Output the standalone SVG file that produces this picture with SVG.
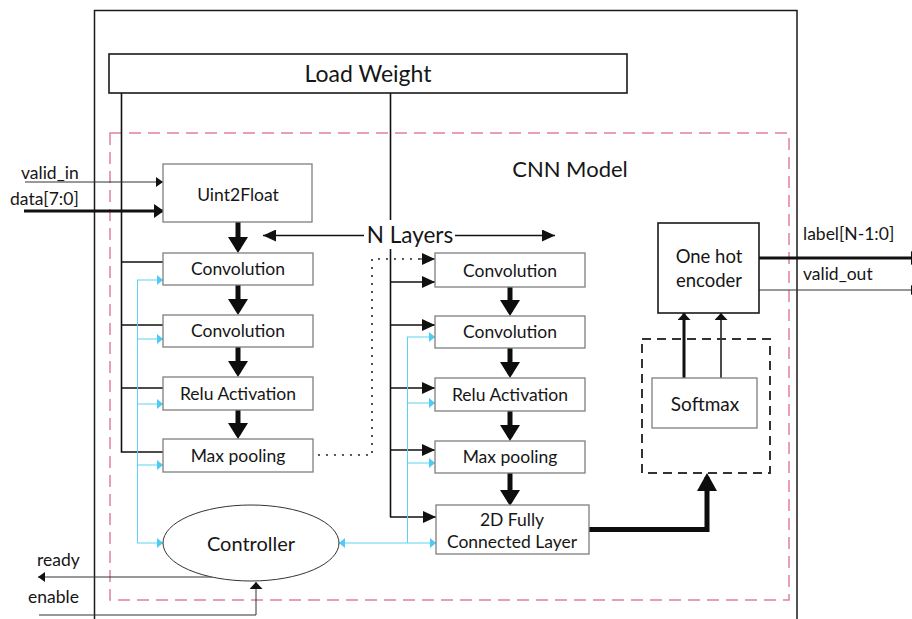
<svg xmlns="http://www.w3.org/2000/svg" width="912" height="619" viewBox="0 0 912 619">
  <style>
    text { font-family: Lato, "Open Sans", "Liberation Sans", sans-serif; fill: #161616; }
    .c { text-anchor: middle; }
    .box { fill: #ffffff; stroke: #7f7f7f; stroke-width: 1.3; }
    .boxk { fill: #ffffff; stroke: #1a1a1a; stroke-width: 1.6; }
    .wire { fill: none; stroke: #111; stroke-width: 1.6; }
    .thin { fill: none; stroke: #333; stroke-width: 1; }
    .bus { fill: none; stroke: #111; stroke-width: 3; }
    .flow { fill: none; stroke: #0d0d0d; stroke-width: 5; }
    .ctl { fill: none; stroke: #5cd2f7; stroke-width: 1; }
    .dot { fill: none; stroke: #222; stroke-width: 1.6; stroke-dasharray: 2 6; }
    .lbl { font-size: 17.5px; }
    .blk { font-size: 17.5px; }
  </style>
  <defs>
    <!-- thick flow arrowhead (line ends 4px before tip) -->
    <marker id="ahFlow" viewBox="0 0 16 20" refX="12" refY="10" markerWidth="16" markerHeight="20" markerUnits="userSpaceOnUse" orient="auto">
      <path d="M0,0 L16,10 L0,20 z" fill="#0d0d0d"/>
    </marker>
    <marker id="ahHuge" viewBox="0 0 18 20" refX="14" refY="10" markerWidth="18" markerHeight="20" markerUnits="userSpaceOnUse" orient="auto">
      <path d="M0,0 L18,10 L0,20 z" fill="#0d0d0d"/>
    </marker>
    <marker id="ahMid" viewBox="0 0 13 12" refX="13" refY="6" markerWidth="13" markerHeight="12" markerUnits="userSpaceOnUse" orient="auto">
      <path d="M0,0 L13,6 L0,12 z" fill="#111"/>
    </marker>
    <marker id="ahData" viewBox="0 0 10 14" refX="9" refY="7" markerWidth="10" markerHeight="14" markerUnits="userSpaceOnUse" orient="auto">
      <path d="M0,0 L10,7 L0,14 z" fill="#111"/>
    </marker>
    <marker id="ahSmall" viewBox="0 0 7 10" refX="7" refY="5" markerWidth="7" markerHeight="10" markerUnits="userSpaceOnUse" orient="auto">
      <path d="M0,0 L7,5 L0,10 z" fill="#111"/>
    </marker>
    <marker id="ahUp" viewBox="0 0 7 13" refX="7" refY="6.5" markerWidth="7" markerHeight="13" markerUnits="userSpaceOnUse" orient="auto">
      <path d="M0,0 L7,6.5 L0,13 z" fill="#111"/>
    </marker>
    <marker id="ahCyan" viewBox="0 0 6 10" refX="6" refY="5" markerWidth="6" markerHeight="10" markerUnits="userSpaceOnUse" orient="auto">
      <path d="M0,0 L6,5 L0,10 z" fill="#4fcaf5"/>
    </marker>
    <marker id="ahCyanS" viewBox="0 0 6 10" refX="6" refY="5" markerWidth="6" markerHeight="10" markerUnits="userSpaceOnUse" orient="auto-start-reverse">
      <path d="M0,0 L6,5 L0,10 z" fill="#4fcaf5"/>
    </marker>
  </defs>

  <!-- accelerator top-level boundary (open at the bottom) -->
  <path id="top-boundary" d="M94.5,619 V10.5 H797 V619" fill="none" stroke="#1a1a1a" stroke-width="1.5"/>

  <!-- CNN model region -->
  <g id="cnn-model">
    <rect x="110" y="133" width="679" height="467" fill="none" stroke="#e0809f" stroke-width="1.5" stroke-dasharray="12 7"/>
    <text x="570" y="177" class="c" font-size="22">CNN Model</text>
  </g>

  <!-- connectors -->
  <g id="connectors">
    <!-- weight distribution, left column -->
    <path class="wire" d="M121.5,93 V452 H163 M121.5,262 H163 M121.5,325 H163 M121.5,388 H163"/>
    <!-- weight distribution, right column -->
    <path class="wire" d="M390.5,93 V220 M390.5,249 V517"/>
    <line class="wire" x1="390" y1="282" x2="435" y2="282" marker-end="url(#ahMid)"/>
    <line class="wire" x1="390" y1="325" x2="435" y2="325" marker-end="url(#ahMid)"/>
    <line class="wire" x1="390" y1="388" x2="435" y2="388" marker-end="url(#ahMid)"/>
    <line class="wire" x1="390" y1="450" x2="435" y2="450" marker-end="url(#ahMid)"/>
    <line class="wire" x1="390" y1="517" x2="436" y2="517" marker-end="url(#ahMid)"/>

    <!-- N layers span -->
    <line class="wire" x1="364" y1="235.5" x2="263" y2="235.5" marker-end="url(#ahMid)"/>
    <line class="wire" x1="455" y1="235.5" x2="555" y2="235.5" marker-end="url(#ahMid)"/>

    <!-- layer repetition (dotted) -->
    <path class="dot" d="M318,455 H372 V259 H422"/>
    <line x1="420" y1="259" x2="435" y2="259" stroke="#111" stroke-width="1" marker-end="url(#ahMid)"/>

    <!-- data flow, left column -->
    <line class="flow" x1="238" y1="222" x2="238" y2="249" marker-end="url(#ahFlow)"/>
    <line class="flow" x1="238" y1="285" x2="238" y2="311" marker-end="url(#ahFlow)"/>
    <line class="flow" x1="238" y1="347" x2="238" y2="373" marker-end="url(#ahFlow)"/>
    <line class="flow" x1="238" y1="410" x2="238" y2="435" marker-end="url(#ahFlow)"/>
    <!-- data flow, right column -->
    <line class="flow" x1="510" y1="287" x2="510" y2="312" marker-end="url(#ahFlow)"/>
    <line class="flow" x1="510" y1="348" x2="510" y2="374" marker-end="url(#ahFlow)"/>
    <line class="flow" x1="510" y1="411" x2="510" y2="437" marker-end="url(#ahFlow)"/>
    <line class="flow" x1="510" y1="473" x2="510" y2="502" marker-end="url(#ahFlow)"/>

    <!-- fully connected to softmax -->
    <path class="flow" d="M589,529.5 H707 V477" marker-end="url(#ahHuge)"/>

    <!-- softmax to one hot encoder -->
    <line class="bus" x1="684" y1="378" x2="684" y2="313" marker-end="url(#ahUp)"/>
    <line x1="721" y1="378" x2="721" y2="313" stroke="#111" stroke-width="1.5" marker-end="url(#ahUp)"/>

    <!-- control lines from the controller -->
    <path class="ctl" d="M137.5,280 V543"/>
    <line class="ctl" x1="137" y1="280" x2="163" y2="280" marker-end="url(#ahCyan)"/>
    <line class="ctl" x1="137" y1="339" x2="163" y2="339" marker-end="url(#ahCyan)"/>
    <line class="ctl" x1="137" y1="404" x2="163" y2="404" marker-end="url(#ahCyan)"/>
    <line class="ctl" x1="137" y1="465" x2="163" y2="465" marker-end="url(#ahCyan)"/>
    <line class="ctl" x1="137" y1="543" x2="163" y2="543" marker-end="url(#ahCyan)"/>
    <path class="ctl" d="M407.5,337 V543"/>
    <line class="ctl" x1="339" y1="543" x2="436" y2="543" marker-start="url(#ahCyanS)" marker-end="url(#ahCyan)"/>
    <line class="ctl" x1="407" y1="337" x2="435" y2="337" marker-end="url(#ahCyan)"/>
    <line class="ctl" x1="407" y1="403" x2="435" y2="403" marker-end="url(#ahCyan)"/>
    <line class="ctl" x1="407" y1="463" x2="435" y2="463" marker-end="url(#ahCyan)"/>

    <!-- external ports -->
    <line class="thin" x1="25" y1="182" x2="163" y2="182" marker-end="url(#ahSmall)"/>
    <line class="bus" x1="24" y1="211" x2="163" y2="211" marker-end="url(#ahData)"/>
    <line class="bus" x1="759" y1="258" x2="920" y2="258" marker-end="url(#ahData)"/>
    <line class="thin" x1="759" y1="290" x2="918" y2="290" marker-end="url(#ahSmall)"/>
    <line class="thin" x1="212" y1="577" x2="38" y2="577" marker-end="url(#ahSmall)"/>
    <path class="thin" d="M39,615 H256 V582" marker-end="url(#ahUp)"/>
  </g>

  <!-- port labels -->
  <g id="ports">
    <text x="21" y="179" class="lbl">valid_in</text>
    <text x="10" y="205" class="lbl">data[7:0]</text>
    <text x="803" y="240" class="lbl">label[N-1:0]</text>
    <text x="803" y="280" class="lbl">valid_out</text>
    <text x="37" y="566" class="lbl">ready</text>
    <text x="28" y="603" class="lbl">enable</text>
  </g>

  <g id="load-weight">
    <rect x="109" y="54" width="518" height="39" class="boxk" stroke-width="1.5"/>
    <text x="368" y="82" class="c" font-size="23">Load Weight</text>
  </g>

  <g id="n-layers">
    <text x="410" y="243" class="c" font-size="22.5">N Layers</text>
  </g>

  <g id="uint2float">
    <rect x="163" y="164" width="149" height="58" class="box"/>
    <text x="238" y="201" class="c" font-size="17.5">Uint2Float</text>
  </g>

  <!-- first layer -->
  <g id="conv-a1">
    <rect x="163" y="253" width="150" height="32" class="box"/>
    <text x="238" y="275" class="c blk">Convolution</text>
  </g>
  <g id="conv-a2">
    <rect x="163" y="315" width="150" height="32" class="box"/>
    <text x="238" y="337" class="c blk">Convolution</text>
  </g>
  <g id="relu-a">
    <rect x="163" y="377" width="150" height="33" class="box"/>
    <text x="238" y="400" class="c blk">Relu Activation</text>
  </g>
  <g id="maxpool-a">
    <rect x="163" y="439" width="150" height="33" class="box"/>
    <text x="238" y="462" class="c blk">Max pooling</text>
  </g>

  <!-- last layer -->
  <g id="conv-b1">
    <rect x="435" y="253" width="150" height="34" class="box"/>
    <text x="510" y="277" class="c blk">Convolution</text>
  </g>
  <g id="conv-b2">
    <rect x="435" y="316" width="150" height="32" class="box"/>
    <text x="510" y="338" class="c blk">Convolution</text>
  </g>
  <g id="relu-b">
    <rect x="435" y="378" width="150" height="33" class="box"/>
    <text x="510" y="401" class="c blk">Relu Activation</text>
  </g>
  <g id="maxpool-b">
    <rect x="435" y="441" width="150" height="32" class="box"/>
    <text x="510" y="463" class="c blk">Max pooling</text>
  </g>
  <g id="fully-connected">
    <rect x="436" y="505" width="153" height="49" class="box"/>
    <text x="512" y="526" class="c blk">2D Fully</text>
    <text x="512" y="548" class="c blk">Connected Layer</text>
  </g>

  <g id="controller">
    <ellipse cx="251" cy="543" rx="88" ry="38" fill="#ffffff" stroke="#333" stroke-width="1"/>
    <text x="251" y="551" class="c" font-size="20">Controller</text>
  </g>

  <g id="softmax-stage">
    <rect x="642" y="339" width="128" height="134" fill="none" stroke="#333" stroke-width="2" stroke-dasharray="9 6"/>
  </g>
  <g id="softmax">
    <rect x="652" y="378" width="105" height="50" class="box"/>
    <text x="705" y="411" class="c" font-size="19">Softmax</text>
  </g>

  <g id="one-hot-encoder">
    <rect x="658" y="223" width="101" height="90" class="boxk"/>
    <text x="709" y="263" class="c" font-size="18.5">One hot</text>
    <text x="709" y="287" class="c" font-size="18.5">encoder</text>
  </g>
</svg>
